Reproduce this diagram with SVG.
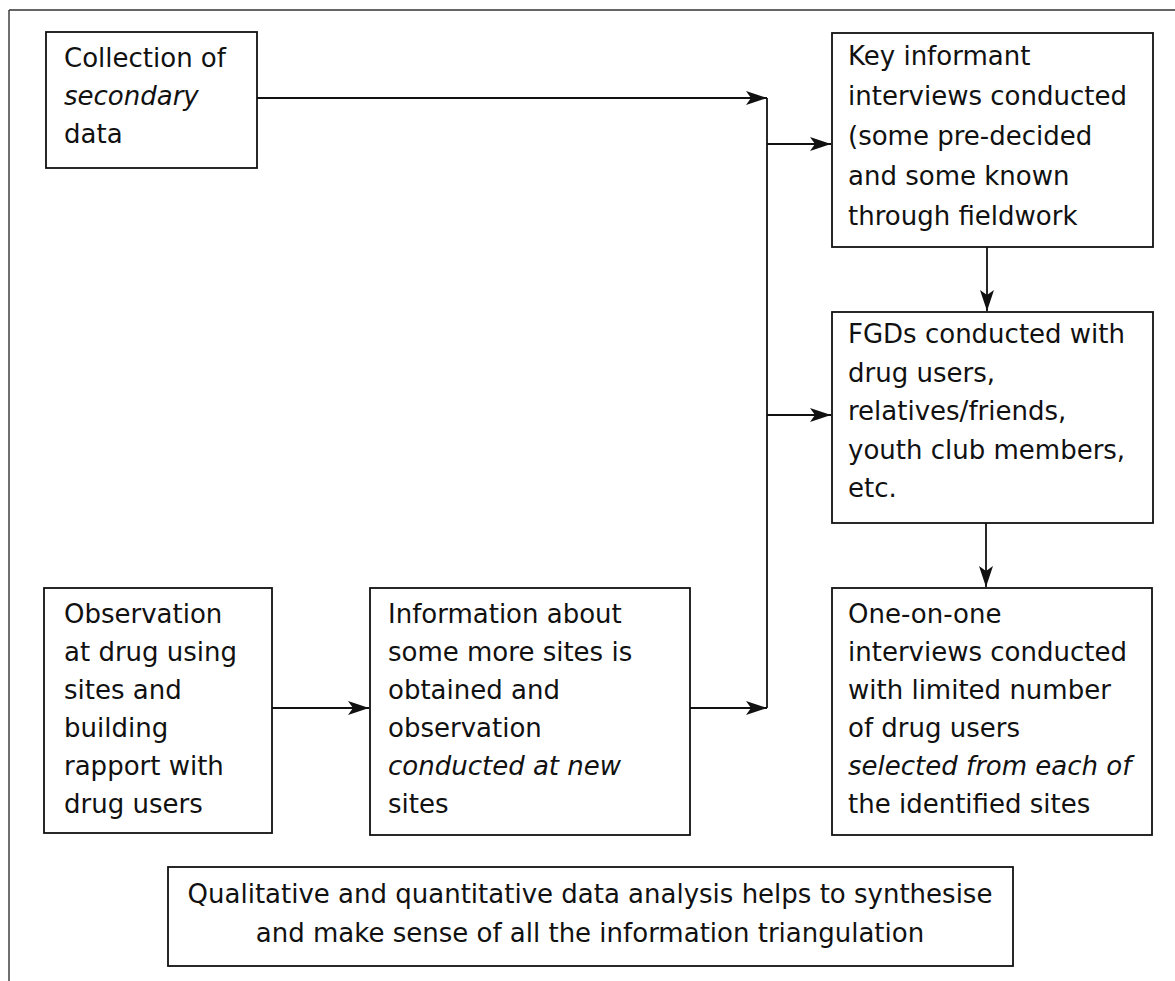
<svg xmlns="http://www.w3.org/2000/svg" width="1175" height="981" viewBox="0 0 1175 981">
<style>
.box{fill:#fff;stroke:#111;stroke-width:1.8}
.t{font-family:"DejaVu Sans",Verdana,sans-serif;font-size:26px;fill:#111}
.i{font-style:italic}
.ln{fill:none;stroke:#111;stroke-width:1.8}
.frame{fill:none;stroke:#333;stroke-width:1.4}
</style>
<defs>
<marker id="ah" markerUnits="userSpaceOnUse" markerWidth="24" markerHeight="16" refX="21" refY="7" orient="auto">
<polygon points="0,0 21,7 0,14 5,7" fill="#111"/>
</marker>
</defs>
<path class="frame" d="M9,10 H1175 M9,10 V981"/>
<g id="connectors">
<line class="ln" x1="257" y1="98" x2="767" y2="98" marker-end="url(#ah)"/>
<line class="ln" x1="767" y1="98" x2="767" y2="708"/>
<line class="ln" x1="767" y1="144" x2="831" y2="144" marker-end="url(#ah)"/>
<line class="ln" x1="767" y1="415" x2="831" y2="415" marker-end="url(#ah)"/>
<line class="ln" x1="987" y1="247" x2="987" y2="311" marker-end="url(#ah)"/>
<line class="ln" x1="986" y1="523" x2="986" y2="587" marker-end="url(#ah)"/>
<line class="ln" x1="272" y1="708" x2="369" y2="708" marker-end="url(#ah)"/>
<line class="ln" x1="690" y1="708" x2="767" y2="708" marker-end="url(#ah)"/>
</g>
<g id="n1">
<rect class="box" x="46" y="32" width="211" height="136"/>
<text class="t" x="64" y="67">Collection of</text>
<text class="t i" x="64" y="105">secondary</text>
<text class="t" x="64" y="143">data</text>
</g>
<g id="n2">
<rect class="box" x="832" y="33" width="321" height="214"/>
<text class="t" x="848" y="65">Key informant</text>
<text class="t" x="848" y="105">interviews conducted</text>
<text class="t" x="848" y="145">(some pre-decided</text>
<text class="t" x="848" y="185">and some known</text>
<text class="t" x="848" y="225">through fieldwork</text>
</g>
<g id="n3">
<rect class="box" x="832" y="312" width="321" height="211"/>
<text class="t" x="848" y="343">FGDs conducted with</text>
<text class="t" x="848" y="381.5">drug users,</text>
<text class="t" x="848" y="420">relatives/friends,</text>
<text class="t" x="848" y="458.5">youth club members,</text>
<text class="t" x="848" y="497">etc.</text>
</g>
<g id="n4">
<rect class="box" x="832" y="588" width="320" height="247"/>
<text class="t" x="848" y="623">One-on-one</text>
<text class="t" x="848" y="661">interviews conducted</text>
<text class="t" x="848" y="699">with limited number</text>
<text class="t" x="848" y="737">of drug users</text>
<text class="t i" x="848" y="775">selected from each of</text>
<text class="t" x="848" y="813">the identified sites</text>
</g>
<g id="n5">
<rect class="box" x="44" y="588" width="228" height="245"/>
<text class="t" x="64" y="623">Observation</text>
<text class="t" x="64" y="661">at drug using</text>
<text class="t" x="64" y="699">sites and</text>
<text class="t" x="64" y="737">building</text>
<text class="t" x="64" y="775">rapport with</text>
<text class="t" x="64" y="813">drug users</text>
</g>
<g id="n6">
<rect class="box" x="370" y="588" width="320" height="247"/>
<text class="t" x="388" y="623">Information about</text>
<text class="t" x="388" y="661">some more sites is</text>
<text class="t" x="388" y="699">obtained and</text>
<text class="t" x="388" y="737">observation</text>
<text class="t i" x="388" y="775">conducted at new</text>
<text class="t" x="388" y="813">sites</text>
</g>
<g id="n7">
<rect class="box" x="168" y="867" width="845" height="99"/>
<text class="t" x="590" y="903" text-anchor="middle">Qualitative and quantitative data analysis helps to synthesise</text>
<text class="t" x="590" y="942" text-anchor="middle">and make sense of all the information triangulation</text>
</g>
</svg>
